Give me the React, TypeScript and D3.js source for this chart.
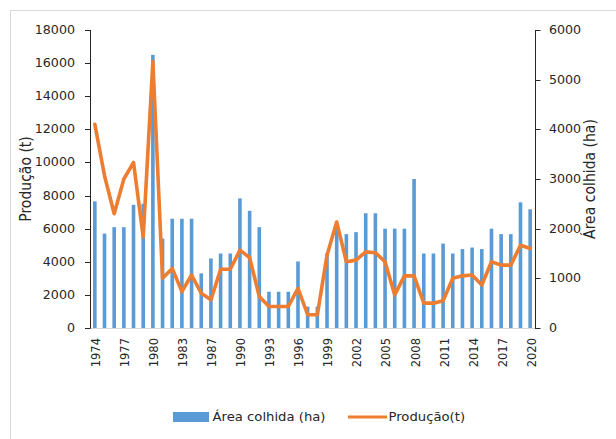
import React from "react";
import * as d3 from "d3";

const years: number[] = [
  1974, 1975, 1976, 1977, 1978, 1979, 1980, 1981, 1982, 1983, 1984, 1985,
  1987, 1988, 1989, 1990, 1991, 1992, 1993, 1994, 1995, 1996, 1997, 1998,
  1999, 2000, 2001, 2002, 2003, 2004, 2005, 2006, 2007, 2008, 2009, 2010,
  2011, 2012, 2013, 2014, 2015, 2016, 2017, 2018, 2019, 2020,
];

// Área colhida (ha) - right axis, bars
const area: number[] = [
  2550, 1900, 2030, 2030, 2480, 2500, 5500, 1800, 2200, 2200, 2200, 1100,
  1400, 1500, 1500, 2610, 2360, 2030, 730, 730, 730, 1340, 430, 430,
  1500, 2100, 1890, 1930, 2310, 2310, 2000, 2000, 2000, 3000, 1500, 1500,
  1700, 1500, 1590, 1620, 1590, 2000, 1890, 1890, 2530, 2390,
];

// Produção (t) - left axis, line
const producao: number[] = [
  12300, 9200, 6900, 9000, 10000, 5500, 16100, 3000, 3600, 2200, 3200, 2100,
  1700, 3550, 3550, 4700, 4250, 1900, 1300, 1300, 1300, 2400, 800, 800,
  4400, 6400, 4000, 4100, 4600, 4550, 4000, 2000, 3150, 3150, 1500, 1500,
  1650, 3000, 3150, 3200, 2600, 4000, 3800, 3800, 5000, 4800,
];

const leftTicks: number[] = [0, 2000, 4000, 6000, 8000, 10000, 12000, 14000, 16000, 18000];
const rightTicks: number[] = [0, 1000, 2000, 3000, 4000, 5000, 6000];

const W = 616;
const H = 439;
const PL = 90;
const PR = 535;
const PT = 30;
const PB = 328;
const SX = 1.1;
const FONT = "'DejaVu Sans', sans-serif";
const FS = 11.5;
const TXT = "#262626";

function T(props: {
  x: number;
  y: number;
  anchor?: string;
  rotate?: number;
  size?: number;
  children: React.ReactNode;
}) {
  const { x, y, anchor = "start", rotate = 0, size = FS, children } = props;
  return (
    <text
      transform={`translate(${x},${y}) scale(${SX},1) rotate(${rotate})`}
      textAnchor={anchor}
      dy="0.35em"
      fontFamily={FONT}
      fontSize={size}
      fill={TXT}
    >
      {children}
    </text>
  );
}

export default function App() {
  const xc = d3.scaleBand<number>().domain(years).range([PL, PR]);
  const yL = d3.scaleLinear().domain([0, 18000]).range([PB, PT]);
  const yR = d3.scaleLinear().domain([0, 6000]).range([PB, PT]);
  const cx = (yr: number) => (xc(yr) as number) + xc.bandwidth() / 2;

  const line = d3
    .line<number>()
    .x((_, i) => cx(years[i]))
    .y((d) => yL(d));

  return (
    <svg
      width={W}
      height={H}
      style={{ position: "absolute", left: 0, top: 0, background: "#fff" }}
    >
      <rect x={0} y={0} width={W} height={H} fill="#fff" />
      <rect x={10.5} y={10.5} width={W + 10} height={H + 10} fill="none" stroke="#d9d9d9" />

      {/* bars */}
      {years.map((yr, i) => {
        const bw = 3.6;
        return (
          <rect
            key={yr}
            x={cx(yr) - bw / 2}
            y={yR(area[i])}
            width={bw}
            height={PB - yR(area[i])}
            fill="#5b9bd5"
          />
        );
      })}

      {/* x axis baseline */}
      <line x1={PL} x2={PR} y1={PB + 0.5} y2={PB + 0.5} stroke="#d9d9d9" />

      {/* line */}
      <path
        d={line(producao) as string}
        fill="none"
        stroke="#ed7d31"
        strokeWidth={3.6}
        strokeLinejoin="round"
        strokeLinecap="round"
      />

      {/* left axis */}
      <line x1={PL + 0.5} x2={PL + 0.5} y1={PT} y2={PB + 0.5} stroke="#262626" />
      {leftTicks.map((t) => (
        <g key={"l" + t}>
          <line x1={PL - 5} x2={PL + 0.5} y1={Math.round(yL(t)) + 0.5} y2={Math.round(yL(t)) + 0.5} stroke="#262626" />
          <T x={75} y={yL(t)} anchor="end">
            {t}
          </T>
        </g>
      ))}

      {/* right axis */}
      <line x1={PR + 0.5} x2={PR + 0.5} y1={PT} y2={PB + 0.5} stroke="#262626" />
      {rightTicks.map((t) => (
        <g key={"r" + t}>
          <line x1={PR} x2={PR + 5.5} y1={Math.round(yR(t)) + 0.5} y2={Math.round(yR(t)) + 0.5} stroke="#262626" />
          <T x={549} y={yR(t)} anchor="start">
            {t}
          </T>
        </g>
      ))}

      {/* x labels */}
      {years.map((yr, i) =>
        i % 3 === 0 ? (
          <T key={"x" + yr} x={cx(yr) + 1} y={338} anchor="end" rotate={-90}>
            {yr}
          </T>
        ) : null
      )}

      {/* axis titles */}
      <T x={25.5} y={(PT + PB) / 2} anchor="middle" rotate={-90} size={14}>
        Produção (t)
      </T>
      <T x={590} y={(PT + PB) / 2} anchor="middle" rotate={-90} size={14}>
        Área colhida (ha)
      </T>

      {/* legend */}
      <rect x={173} y={412} width={36} height={10} fill="#5b9bd5" />
      <T x={212.5} y={417} size={12}>Área colhida (ha)</T>
      <line x1={348} x2={387} y1={417} y2={417} stroke="#ed7d31" strokeWidth={3} />
      <T x={388.5} y={417} size={12}>Produção(t)</T>
    </svg>
  );
}
